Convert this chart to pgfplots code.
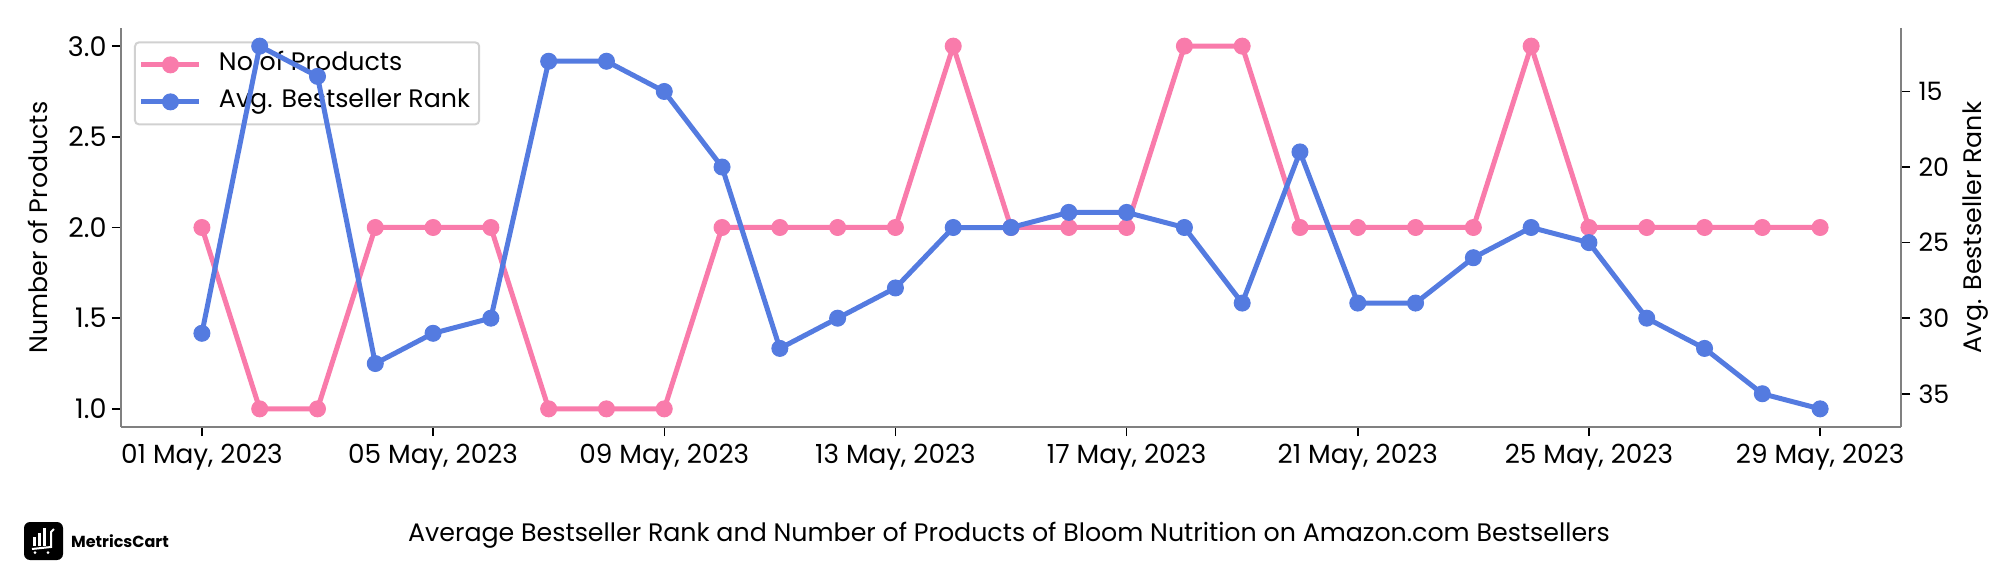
\documentclass[border=0pt]{standalone}
\usepackage{fontspec}
\setmainfont{Poppins}
\usepackage{pgfplots}
\pgfplotsset{compat=1.18}
\usepackage{pgfplotstable}
\definecolor{pinkline}{HTML}{F97BAB}
\definecolor{blueline}{HTML}{547BE0}
\definecolor{axisgray}{HTML}{808080}
\pgfplotstableread{
day products rank
1 2 31
2 1 12
3 1 14
4 2 33
5 2 31
6 2 30
7 1 13
8 1 13
9 1 15
10 2 20
11 2 32
12 2 30
13 2 28
14 3 24
15 2 24
16 2 23
17 2 23
18 3 24
19 3 29
20 2 19
21 2 29
22 2 29
23 2 26
24 3 24
25 2 25
26 2 30
27 2 32
28 2 35
29 2 36
}\sales
\newcommand{\chartfont}{\fontsize{25.3}{30}\selectfont}
\pgfplotsset{
  base/.style={
    scale only axis, width=1780pt, height=399pt,
    at={(121pt,149pt)}, anchor=south west,
    xmin=-0.4, xmax=30.4,
    font=\chartfont,
    tick align=outside, major tick length=9pt,
    tick style={black, line width=1.5pt},
    axis line style={draw=axisgray, line width=2pt, -},
    /pgf/number format/assume math mode=true,
    clip=false,
    legend image code/.code={
      \draw[mark repeat=2,mark phase=2,##1] plot coordinates {(0pt,0pt)(29pt,0pt)(58pt,0pt)};
    },
  },
  series/.style={color=#1, line width=5pt, mark=*, mark size=8pt,
    mark options={fill=#1, draw=#1, line width=1pt, solid}},
}
\begin{document}
\begin{tikzpicture}[x=1pt,y=1pt]
\useasboundingbox (0,0) rectangle (2016,576);
% the legend belongs to the first axis: the blue line runs over it
\begin{axis}[base,
  axis x line*=bottom, axis y line*=left,
  ymin=0.9, ymax=3.1,
  ytick={1,1.5,2,2.5,3},
  yticklabel style={font=\fontsize{27}{30}\selectfont,/pgf/number format/fixed,/pgf/number format/fixed zerofill,/pgf/number format/precision=1,xshift=-2pt},
  xtick={1,5,9,13,17,21,25,29},
  xticklabels={{01 May, 2023},{05 May, 2023},{09 May, 2023},{13 May, 2023},{17 May, 2023},{21 May, 2023},{25 May, 2023},{29 May, 2023}},
  xticklabel style={font=\fontsize{26.3}{30}\selectfont, yshift=-5pt},
  ylabel={Number of Products},
  every axis y label/.append style={at={(axis description cs:-0.0466,0.5)},anchor=center},
  legend cell align=left,
  legend style={at={(axis description cs:0.0073,0.9665)}, anchor=north west, draw=black!18, line width=2pt,
    rounded corners=4pt, fill=white,
    inner xsep=4pt, inner ysep=7.5pt, row sep=7pt, column sep=12pt,
    nodes={inner xsep=5pt, inner ysep=3pt, font=\chartfont, text height=18pt, text depth=6pt}},
]
\addplot[series=pinkline] table[x=day,y=products] {\sales};
\addlegendentry{No of Products}
\addlegendimage{series=blueline}
\addlegendentry{Avg. Bestseller Rank}
\end{axis}
\begin{axis}[base,
  axis x line=none, axis y line*=right,
  ymin=10.8, ymax=37.2, y dir=reverse,
  ytick={15,20,25,30,35},
  yticklabel style={xshift=5pt},
  ylabel={Avg. Bestseller Rank},
  every axis y label/.append style={at={(axis description cs:1.042,0.5)},anchor=center},
]
\addplot[series=blueline] table[x=day,y=rank] {\sales};
\end{axis}
% footer
\node[font=\chartfont] at (1009,41) {Average Bestseller Rank and Number of Products of Bloom Nutrition on Amazon.com Bestsellers};
\fill[black, rounded corners=6pt] (24,16) rectangle (63,54);
\foreach \x/\h in {33/9,38/13,43/18}{\fill[white] (\x,30) rectangle +(3,\h);}
\draw[white,line width=2pt] (54,47) -- (51,44) -- (51,29) -- (32,27);
\fill[white] (35,23.5) circle (1.5) (48,23.5) circle (1.5);
\node[anchor=west, inner sep=0pt, font=\fontsize{16}{18}\selectfont\bfseries] at (71,35) {MetricsCart};
\end{tikzpicture}
\end{document}
